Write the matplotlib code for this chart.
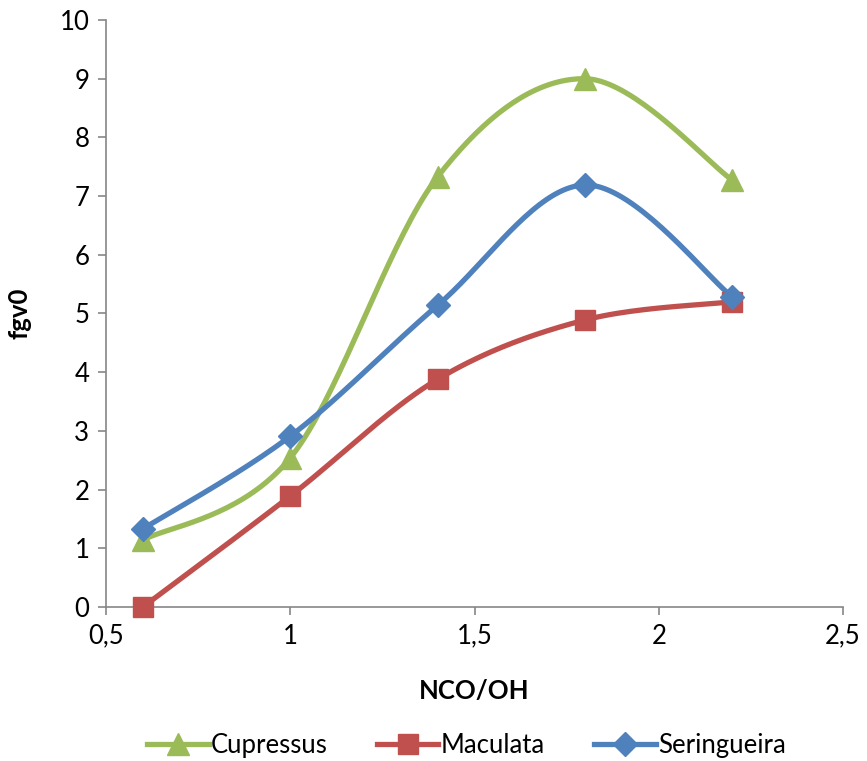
import numpy as np
import matplotlib
matplotlib.use("Agg")
import matplotlib.pyplot as plt

plt.rcParams["font.family"] = ["Lato", "DejaVu Sans"]

NCO_OH = [0.6, 1.0, 1.4, 1.8, 2.2]
CUPRESSUS = [1.14, 2.54, 7.33, 9.0, 7.27]
MACULATA = [0.0, 1.89, 3.88, 4.89, 5.2]
SERINGUEIRA = [1.33, 2.91, 5.14, 7.19, 5.28]

GREEN, RED, BLUE, AXIS = "#9bbb59", "#c0504d", "#4f81bd", "#868686"


def smooth(xs, ys, steps=40):
    """Excel-style smoothed line: cubic Bezier segments, tension 1/6."""
    p = np.column_stack([xs, ys]).astype(float)
    p = np.vstack([p[0], p, p[-1]])
    out = []
    t = np.linspace(0.0, 1.0, steps)[:, None]
    for i in range(1, len(p)-2):
        a, b = p[i], p[i+1]
        c1 = a+(p[i+1]-p[i-1])/6.0
        c2 = b-(p[i+2]-p[i])/6.0
        seg = ((1-t)**3)*a+3*((1-t)**2)*t*c1+3*(1-t)*t**2*c2+t**3*b
        out.append(seg if i == 1 else seg[1:])
    pts = np.vstack(out)
    return pts[:, 0], pts[:, 1]


fig = plt.figure(figsize=(8.67, 7.61), dpi=100)
ax = fig.add_axes([0.1223, 0.2024, 0.85, 0.7713])

series = [("Cupressus", CUPRESSUS, GREEN, "^", 16),
          ("Maculata", MACULATA, RED, "s", 14),
          ("Seringueira", SERINGUEIRA, BLUE, "D", 12)]
for name, ys, colour, marker, ms in series:
    sx, sy = smooth(NCO_OH, ys)
    ax.plot(sx, sy, color=colour, lw=3.8, solid_capstyle="round", zorder=2)
    ax.plot(NCO_OH, ys, ls="none", marker=marker, ms=ms, color=colour,
            markeredgecolor=colour, zorder=3, clip_on=False)
    ax.plot([], [], color=colour, lw=3.8, marker=marker, ms=ms, label=name)

ax.set_xlim(0.5, 2.5)
ax.set_ylim(0, 10)
ax.set_xticks([0.5, 1.0, 1.5, 2.0, 2.5])
ax.set_xticklabels(["0,5", "1", "1,5", "2", "2,5"])
ax.set_yticks(range(0, 11))
ax.spines[["top", "right"]].set_visible(False)
for side in ("left", "bottom"):
    ax.spines[side].set_color(AXIS)
    ax.spines[side].set_linewidth(1.2)
ax.tick_params(direction="out", length=6, width=1.2, color=AXIS,
               labelsize=18.5, pad=6)
ax.set_xlabel("NCO/OH", fontsize=18.5, fontweight="bold", labelpad=22)
ax.set_ylabel("fgv0", fontsize=18.5, fontweight="bold", labelpad=20)

fig.legend(loc="center", bbox_to_anchor=(0.538, 0.021), ncol=3, frameon=False,
           fontsize=18.5, handlelength=2.4, handletextpad=0.1, columnspacing=1.9)

fig.savefig("out.png", dpi=100)
